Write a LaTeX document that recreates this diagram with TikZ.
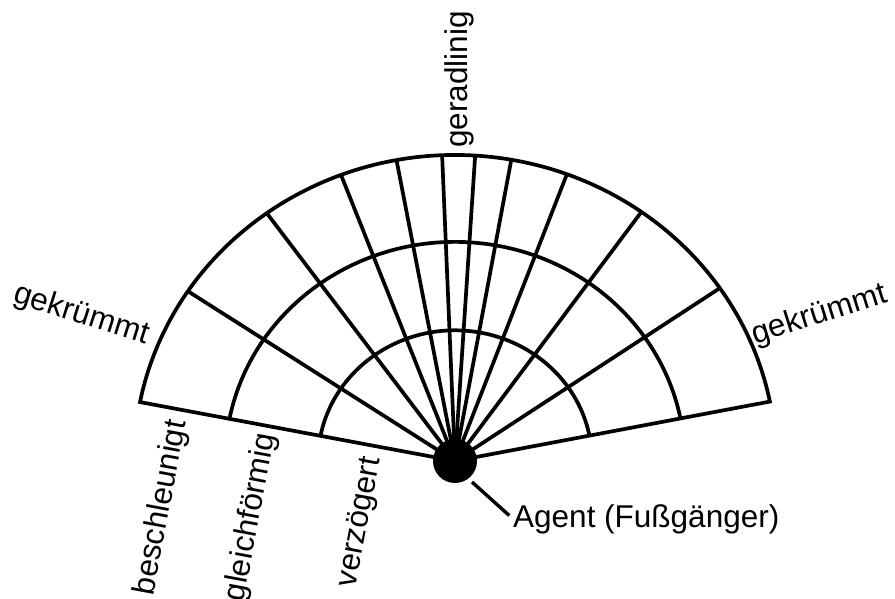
\documentclass[tikz,border=0pt]{standalone}
\usepackage{fontspec}
\setmainfont{Liberation Sans}
\begin{document}
\begin{tikzpicture}[x=1pt,y=-1pt,
  grid/.style={line width=3.7pt, black, line join=miter},
  lbl/.style={font=\fontsize{31.5}{36}\selectfont, inner sep=0pt}]
\useasboundingbox (0,0) rectangle (895,599);
\coordinate (c) at (455,461);
\def\A{321}\def\B{306}
\foreach \n/\t in {1/168.9,2/146.3,3/125.9,4/110.8,5/100.5,6/92.3,7/86.4,8/79.9,9/69.6,10/54.5,11/34.4,12/11.2}
  \coordinate (o\n) at ({455+\A*cos(\t)},{461-\B*sin(\t)});
\coordinate (m1) at ({455+229.84*cos(168.9)},{461-219.10*sin(168.9)});
\coordinate (i1) at ({455+137.07*cos(168.9)},{461-130.66*sin(168.9)});
% spokes
\foreach \n in {2,...,11} \draw[grid] (c) -- (o\n);
% rings
\draw[grid] (i1) arc[start angle=168.9,end angle=11.2,x radius=137.07pt,y radius=130.66pt];
\draw[grid] (m1) arc[start angle=168.9,end angle=11.2,x radius=229.84pt,y radius=219.10pt];
% outline
\draw[grid] (c) -- (o1) arc[start angle=168.9,end angle=11.2,x radius=321pt,y radius=306pt] -- cycle;
% agent
\node[circle, fill=black, inner sep=0pt, minimum size=44pt] (agent) at (c) {};
\coordinate (ptr) at (472,482);
\node[lbl, anchor=base west] (agentlbl) at (513,527) {Agent (Fußgänger)};
\draw[line width=3.4pt, shorten >=5pt] (ptr) -- (agentlbl.west);
% labels
\node[lbl, rotate=-17.5, anchor=base] (gl) at (79,323) {gekrümmt};
\node[lbl, rotate=17.5, anchor=base] (gr) at (822,323) {gekrümmt};
\node[lbl, rotate=90, anchor=base west] (ger) at (467,148) {geradlinig};
\node[lbl, rotate=79.4, anchor=base east] (b1) at (186,422) {beschleunigt};
\node[lbl, rotate=79.4, anchor=base east] (b2) at (275,435) {gleichförmig};
\node[lbl, rotate=79.4, anchor=base east] (b3) at (380,459) {verzögert};
\end{tikzpicture}
\end{document}
